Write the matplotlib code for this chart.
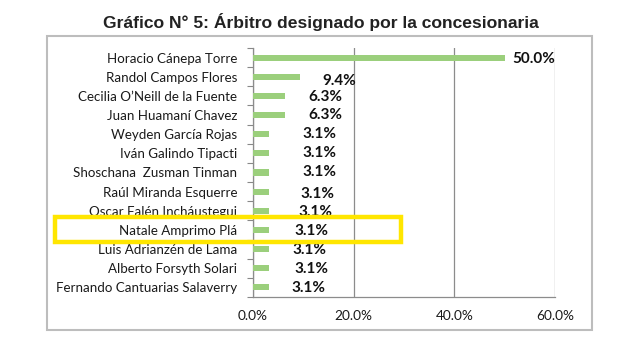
import numpy as np
import matplotlib.pyplot as plt
from matplotlib.patches import Rectangle
from matplotlib.transforms import offset_copy

# Árbitros y porcentaje de designaciones
arbitros = [
    'Horacio Cánepa Torre', 'Randol Campos Flores', 'Cecilia O’Neill de la Fuente',
    'Juan Huamaní Chavez', 'Weyden García Rojas', 'Iván Galindo Tipacti',
    'Shoschana  Zusman Tinman', 'Raúl Miranda Esquerre', 'Oscar Falén Incháustegui',
    'Natale Amprimo Plá', 'Luis Adrianzén de Lama', 'Alberto Forsyth Solari',
    'Fernando Cantuarias Salaverry',
]
porcentaje = [50.0, 9.4, 6.3, 6.3, 3.1, 3.1, 3.1, 3.1, 3.1, 3.1, 3.1, 3.1, 3.1]
xticks = [0, 20, 40, 60]
resaltado = 'Natale Amprimo Plá'

# label offsets (px) as placed in the original Excel chart
label_dx = [8, 22, 24, 24, 34, 34, 34, 32, 30, 26, 24, 26, 23]
label_dy = [-1, -4, -1, 0, 0, 0, 0, -2, -1, -1, -1, -1, -1]

plt.rcParams['font.family'] = ['Lato', 'DejaVu Sans']

fig = plt.figure(figsize=(6.4, 3.6), dpi=100)
fig.patch.set_facecolor('white')

# chart frame
fig.add_artist(Rectangle((47 / 640, 1 - 330 / 360), 545 / 640, 294 / 360,
                         transform=fig.transFigure, fill=False,
                         edgecolor='#bdbdbd', linewidth=1.5))

ax = fig.add_axes([253 / 640, 1 - 297 / 360, 302 / 640, 249 / 360])
y = np.arange(len(arbitros))
ax.barh(y, porcentaje, height=0.32, color='#9bcf7c', zorder=3)
ax.set_ylim(len(arbitros) - 0.5, -0.5)
ax.set_xlim(0, 60)

ax.set_yticks(y)
ax.set_yticklabels(arbitros, fontsize=9.6, color='#1a1a1a')
ax.set_yticks(np.arange(-0.5, len(arbitros), 1), minor=True)
ax.tick_params(axis='y', which='major', length=0, pad=11.5)
ax.tick_params(axis='y', which='minor', length=4, color='#888888', width=0.8)

ax.set_xticks(xticks)
ax.set_xticklabels([f'{t:.1f}%' for t in xticks], fontsize=9.8, color='#1a1a1a')
ax.tick_params(axis='x', length=0, pad=9)
ax.grid(axis='x', color='#8c8c8c', linewidth=0.9, zorder=0)

for s in ['top', 'right']:
    ax.spines[s].set_visible(False)
for s in ['left', 'bottom']:
    ax.spines[s].set_color('#8c8c8c')
    ax.spines[s].set_linewidth(0.9)

for i, v in enumerate(porcentaje):
    tr = offset_copy(ax.transData, fig=fig, x=label_dx[i], y=label_dy[i], units='dots')
    ax.text(v, i, f'{v:.1f}%', transform=tr, ha='left', va='center',
            fontsize=11, fontweight='bold', color='#111111')

fig.text(0.502, 1 - 22 / 360, 'Gráfico N° 5: Árbitro designado por la concesionaria',
         ha='center', va='center', fontsize=12.6, fontweight='bold',
         family='Liberation Sans', color='#222222')

# highlight box around the selected arbitrator
fig.add_artist(Rectangle((55 / 640, 1 - 242 / 360), 346 / 640, 25 / 360,
                         transform=fig.transFigure, fill=False,
                         edgecolor='#ffe600', linewidth=3.2, zorder=10))

fig.savefig('out.png', dpi=100)
